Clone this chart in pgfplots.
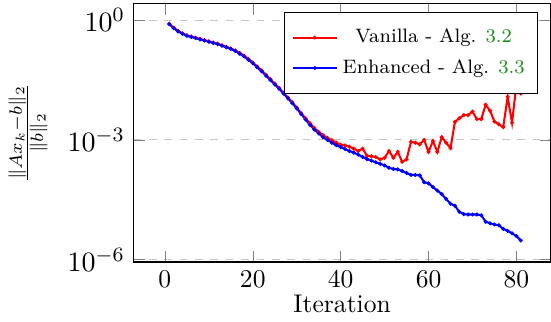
\documentclass[border=0pt]{standalone}
\usepackage{pgfplots}
\pgfplotsset{compat=1.18}
\usepackage{pgfplotstable}
\definecolor{refgreen}{rgb}{0.1,0.55,0.1}
\pgfplotstableread{
k res
1 8.13e-1
2 6.46e-1
3 5.37e-1
4 4.68e-1
5 4.17e-1
6 3.89e-1
7 3.63e-1
8 3.39e-1
9 3.16e-1
10 2.95e-1
11 2.75e-1
12 2.57e-1
13 2.34e-1
14 2.14e-1
15 1.95e-1
16 1.74e-1
17 1.51e-1
18 1.29e-1
19 1.07e-1
20 8.71e-2
21 6.92e-2
22 5.50e-2
23 4.27e-2
24 3.31e-2
25 2.57e-2
26 2.00e-2
27 1.51e-2
28 1.15e-2
29 8.71e-3
30 6.46e-3
31 4.68e-3
32 3.47e-3
33 2.63e-3
34 2.00e-3
35 1.58e-3
36 1.32e-3
37 1.12e-3
38 9.77e-4
39 8.51e-4
40 7.59e-4
41 7.24e-4
42 6.76e-4
43 6.03e-4
44 5.25e-4
45 6.03e-4
46 3.98e-4
47 3.89e-4
48 3.72e-4
49 3.24e-4
50 3.55e-4
51 5.25e-4
52 3.55e-4
53 5.01e-4
54 2.82e-4
55 3.24e-4
56 8.91e-4
57 8.51e-4
58 7.76e-4
59 1.00e-3
60 5.01e-4
61 9.33e-4
62 5.01e-4
63 1.17e-3
64 8.51e-4
65 6.17e-4
66 2.82e-3
67 3.47e-3
68 4.17e-3
69 4.17e-3
70 5.13e-3
71 3.31e-3
72 3.31e-3
73 7.59e-3
74 5.37e-3
75 2.88e-3
76 2.45e-3
77 2.09e-3
78 1.20e-2
79 2.69e-3
80 2.45e-2
81 1.45e-2
}\vanilla
\pgfplotstableread{
k res
1 7.94e-1
2 6.31e-1
3 5.25e-1
4 4.57e-1
5 4.07e-1
6 3.80e-1
7 3.55e-1
8 3.31e-1
9 3.09e-1
10 2.88e-1
11 2.69e-1
12 2.51e-1
13 2.29e-1
14 2.09e-1
15 1.91e-1
16 1.70e-1
17 1.45e-1
18 1.23e-1
19 1.02e-1
20 8.32e-2
21 6.61e-2
22 5.25e-2
23 4.07e-2
24 3.16e-2
25 2.45e-2
26 1.91e-2
27 1.45e-2
28 1.10e-2
29 8.32e-3
30 6.17e-3
31 4.47e-3
32 3.24e-3
33 2.40e-3
34 1.82e-3
35 1.45e-3
36 1.17e-3
37 1.00e-3
38 8.51e-4
39 7.41e-4
40 6.61e-4
41 5.89e-4
42 5.25e-4
43 4.79e-4
44 4.27e-4
45 3.72e-4
46 3.31e-4
47 3.02e-4
48 2.75e-4
49 2.51e-4
50 2.29e-4
51 2.00e-4
52 1.86e-4
53 1.82e-4
54 1.66e-4
55 1.48e-4
56 1.32e-4
57 1.32e-4
58 1.29e-4
59 8.71e-5
60 8.13e-5
61 6.61e-5
62 5.37e-5
63 4.37e-5
64 3.31e-5
65 2.51e-5
66 2.24e-5
67 1.58e-5
68 1.38e-5
69 1.35e-5
70 1.35e-5
71 1.35e-5
72 1.29e-5
73 8.91e-6
74 8.13e-6
75 7.59e-6
76 7.24e-6
77 5.89e-6
78 5.25e-6
79 4.57e-6
80 3.89e-6
81 3.02e-6
}\enhanced
\begin{document}
\begin{tikzpicture}
\begin{axis}[
  scale only axis,
  width=163pt, height=101pt,
  ymode=log,
  xmin=-7.07, xmax=87.75,
  ymin=8.71e-7, ymax=2.57,
  xtick={0,20,40,60,80},
  ytick={1,1e-3,1e-6},
  yminorticks=false,
  ymajorgrids,
  grid style={dashed, gray!45},
  yticklabel style={font=\fontsize{11}{13}\selectfont},
  xlabel={Iteration},
  ylabel={$\frac{\|Ax_k-b\|_2}{\|b\|_2}$},
  ylabel shift=1pt,
  xlabel style={yshift=4pt},
  legend pos=north east,
  legend cell align=center,
  legend style={font=\fontsize{7.6}{9}\selectfont, row sep=1pt, inner ysep=4.5pt},
]
\addplot[red, thick, mark=*, mark size=0.3pt] table[x=k, y=res] {\vanilla};
\addlegendentry{Vanilla - Alg. \textcolor{refgreen}{3.2}}
\addplot[blue, thick, mark=*, mark size=0.3pt] table[x=k, y=res] {\enhanced};
\addlegendentry{Enhanced - Alg. \textcolor{refgreen}{3.3}}
\end{axis}
\end{tikzpicture}
\end{document}
